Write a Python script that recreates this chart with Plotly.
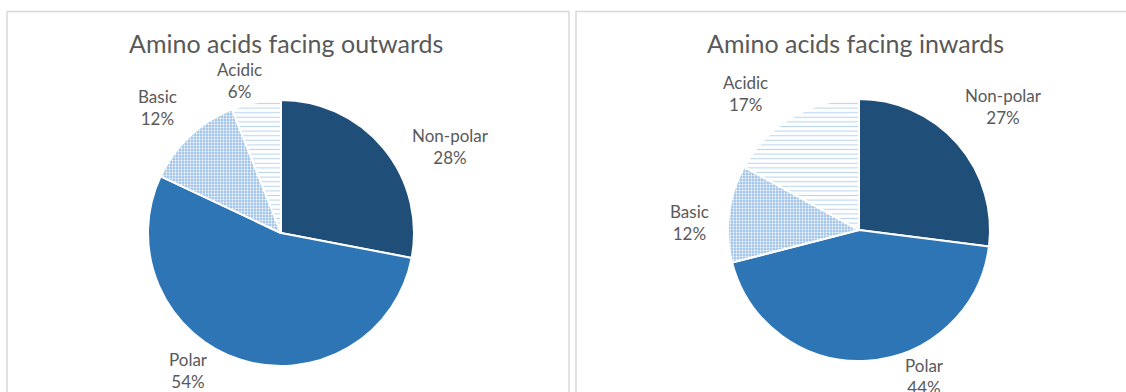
import plotly.graph_objects as go

W, H = 1126, 392

categories = ["Non-polar", "Polar", "Basic", "Acidic"]
outwards = [28, 54, 12, 6]
inwards = [27, 44, 12, 17]
titles = ["Amino acids facing outwards", "Amino acids facing inwards"]

TEXT = "#595959"
FONT = "Lato"

fill = ["#1F4E79", "#2E75B6", "#A4C6EA", "#FFFFFF"]
pattern = dict(
    shape=["", "", ".", "-"],
    fgcolor=["#1F4E79", "#2E75B6", "#FFFFFF", "#BDD7EE"],
    bgcolor=["#1F4E79", "#2E75B6", "#A4C6EA", "#FFFFFF"],
    size=[4, 4, 3, 4.6],
    solidity=[0.5, 0.5, 0.3, 0.25],
    fillmode="replace",
)


def px_x(v):
    return v / W


def px_y(v):
    return 1 - v / H


# pie placement in pixels: (centre x, centre y, radius)
pies = [(281, 233, 133), (859, 230, 131)]

fig = go.Figure()
for vals, (cx, cy, r) in zip([outwards, inwards], pies):
    fig.add_trace(go.Pie(
        labels=categories,
        values=vals,
        sort=False,
        direction="clockwise",
        rotation=0,
        textinfo="none",
        hoverinfo="label+percent",
        marker=dict(colors=fill, pattern=pattern,
                    line=dict(color="white", width=2)),
        domain=dict(x=[px_x(cx - r), px_x(cx + r)],
                    y=[px_y(cy + r), px_y(cy - r)]),
        showlegend=False,
    ))

# chart panels
shapes = [
    dict(type="rect", xref="paper", yref="paper",
         x0=px_x(7), x1=px_x(569), y0=px_y(400), y1=px_y(11.5),
         line=dict(color="#D9D9D9", width=1.5), fillcolor="rgba(0,0,0,0)", layer="below"),
    dict(type="rect", xref="paper", yref="paper",
         x0=px_x(576), x1=px_x(1140), y0=px_y(400), y1=px_y(11.5),
         line=dict(color="#D9D9D9", width=1.5), fillcolor="rgba(0,0,0,0)", layer="below"),
]

annotations = []
for t, cx in zip(titles, [286, 855]):
    annotations.append(dict(
        text=t, x=px_x(cx), y=px_y(43), xref="paper", yref="paper",
        showarrow=False, xanchor="center", yanchor="middle",
        font=dict(family=FONT, size=25, color=TEXT)))

# data label centres in pixels, one per category
label_pos = [
    [(450, 146), (188, 370), (157, 108), (240, 81)],
    [(1004, 106), (924, 376), (689, 222), (745, 93)],
]
for vals, positions in zip([outwards, inwards], label_pos):
    for cat, v, (lx, ly) in zip(categories, vals, positions):
        annotations.append(dict(
            text=f"{cat}<br>{v}%", x=px_x(lx), y=px_y(ly),
            xref="paper", yref="paper", showarrow=False,
            xanchor="center", yanchor="middle", align="center",
            font=dict(family=FONT, size=17, color=TEXT)))

fig.update_layout(
    width=W, height=H,
    margin=dict(l=0, r=0, t=0, b=0),
    paper_bgcolor="white", plot_bgcolor="white",
    shapes=shapes, annotations=annotations,
)

fig.write_html("out.html")
